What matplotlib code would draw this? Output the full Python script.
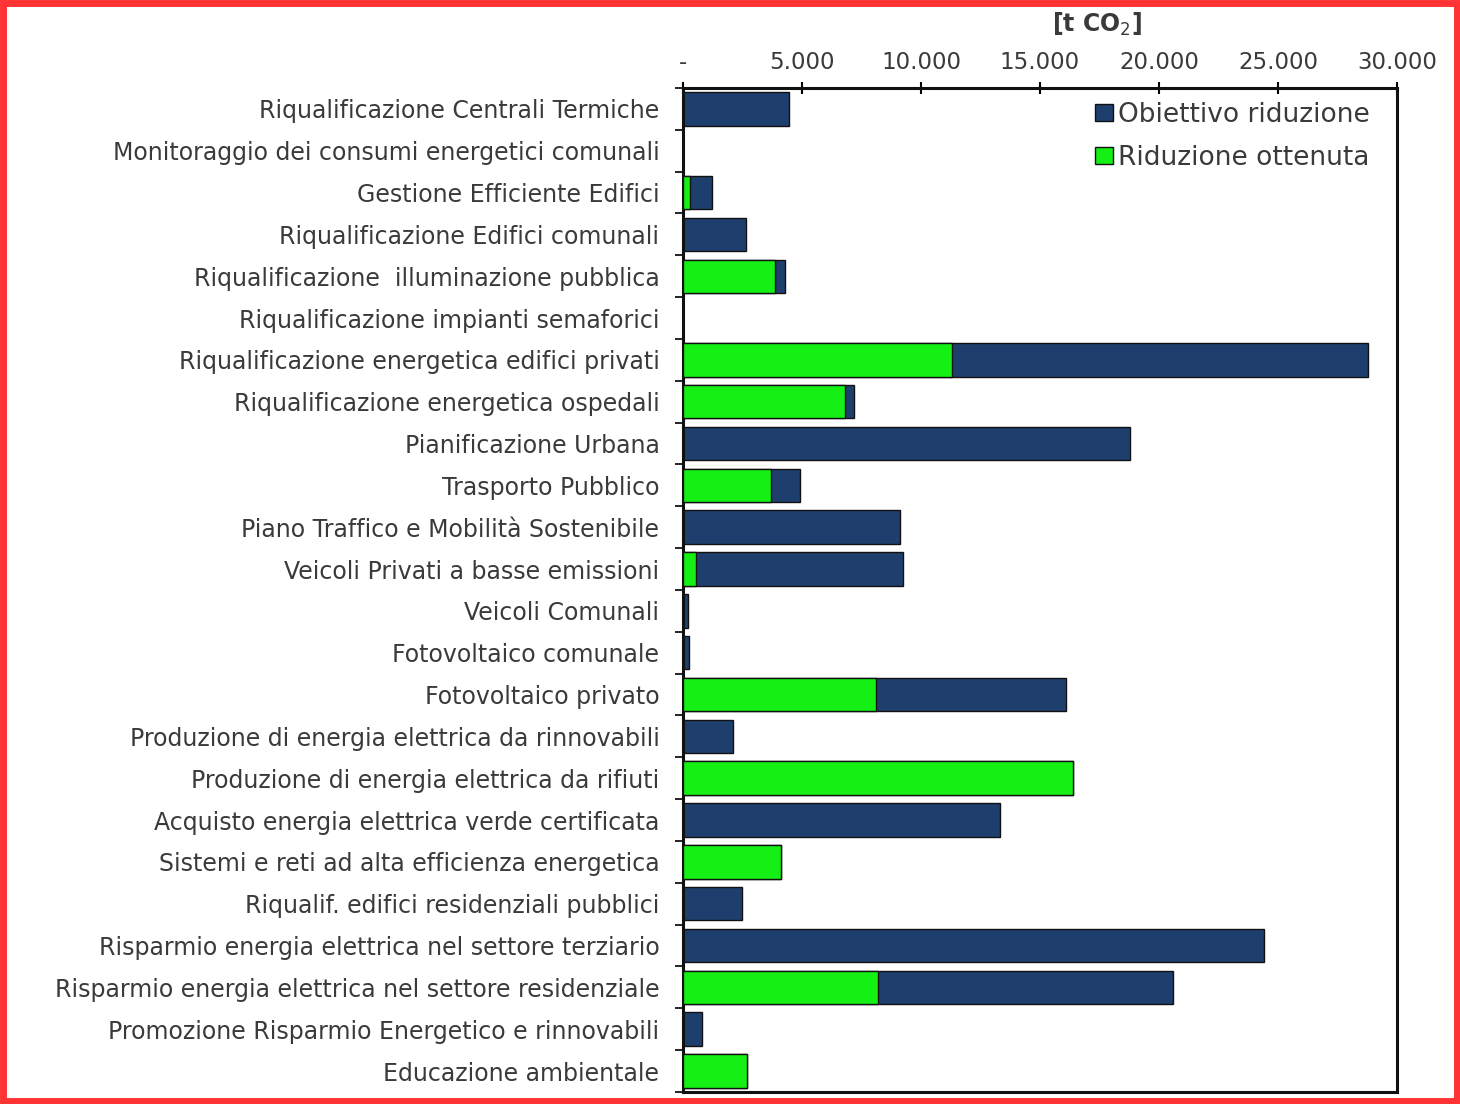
import matplotlib
matplotlib.use("Agg")
import matplotlib.pyplot as plt
from matplotlib.ticker import FuncFormatter, FixedLocator
from matplotlib.patches import Rectangle

plt.rcParams['font.family'] = ['DejaVu Sans']

categories = [
    "Riqualificazione Centrali Termiche",
    "Monitoraggio dei consumi energetici comunali",
    "Gestione Efficiente Edifici",
    "Riqualificazione Edifici comunali",
    "Riqualificazione  illuminazione pubblica",
    "Riqualificazione impianti semaforici",
    "Riqualificazione energetica edifici privati",
    "Riqualificazione energetica ospedali",
    "Pianificazione Urbana",
    "Trasporto Pubblico",
    "Piano Traffico e Mobilità Sostenibile",
    "Veicoli Privati a basse emissioni",
    "Veicoli Comunali",
    "Fotovoltaico comunale",
    "Fotovoltaico privato",
    "Produzione di energia elettrica da rinnovabili",
    "Produzione di energia elettrica da rifiuti",
    "Acquisto energia elettrica verde certificata",
    "Sistemi e reti ad alta efficienza energetica",
    "Riqualif. edifici residenziali pubblici",
    "Risparmio energia elettrica nel settore terziario",
    "Risparmio energia elettrica nel settore residenziale",
    "Promozione Risparmio Energetico e rinnovabili",
    "Educazione ambientale",
]

# t CO2
obiettivo = [4450, 0, 1200, 2650, 4300, 0, 28800, 7200, 18800, 4900, 9100, 9250,
             200, 250, 16100, 2100, 16400, 13300, 4100, 2500, 24400, 20600, 800, 2700]
ottenuta = [0, 0, 300, 0, 3850, 0, 11300, 6800, 0, 3700, 0, 550,
            0, 0, 8100, 0, 16400, 0, 4100, 0, 0, 8200, 0, 2700]

x_ticks = [0, 5000, 10000, 15000, 20000, 25000, 30000]

navy = "#1e3f6e"
green = "#14f014"
text_grey = "#3a3a3a"

fig = plt.figure(figsize=(14.6, 11.04), dpi=100)
ax = fig.add_axes([0.4678, 0.0109, 0.4890, 0.9094])

y = list(range(len(categories)))
ax.barh(y, obiettivo, height=0.8, color=navy, edgecolor="#111111", linewidth=1.0,
        label="Obiettivo riduzione", zorder=2)
ax.barh(y, ottenuta, height=0.8, color=green, edgecolor="#111111", linewidth=1.0,
        label="Riduzione ottenuta", zorder=3)

ax.set_xlim(0, 30000)
ax.set_ylim(len(categories) - 0.5, -0.45)

ax.xaxis.tick_top()
ax.xaxis.set_major_locator(FixedLocator(x_ticks))
ax.xaxis.set_major_formatter(FuncFormatter(
    lambda v, p: "-" if v == 0 else f"{int(v):,}".replace(",", ".")))
ax.tick_params(axis="x", direction="inout", length=8, width=1.5, labelsize=16.5,
               labelcolor=text_grey, pad=6)

ax.set_yticks(y)
ax.set_yticklabels(categories, fontsize=17, color=text_grey)
ax.tick_params(axis="y", length=0, pad=17)
ax.set_yticks([i + 0.5 for i in range(-1, len(categories))], minor=True)
ax.tick_params(axis="y", which="minor", length=6, width=1.2, direction="out")

for s in ax.spines.values():
    s.set_linewidth(2.2)
    s.set_color("#111111")

ax.text(0.58, 1.05, "[t CO$_2$]", transform=ax.transAxes, ha="center", va="bottom",
        fontsize=17, fontweight="bold", color=text_grey)

leg = ax.legend(loc="upper right", frameon=False, fontsize=19, handlelength=0.65,
                handleheight=0.65, handletextpad=0.2, labelspacing=0.65,
                bbox_to_anchor=(0.995, 1.01))
for t in leg.get_texts():
    t.set_color(text_grey)

fig.patches.append(Rectangle((0.002, 0.003), 0.996, 0.994, transform=fig.transFigure,
                             fill=False, edgecolor="#ff3333", linewidth=5))

fig.savefig("out.png", dpi=100)
